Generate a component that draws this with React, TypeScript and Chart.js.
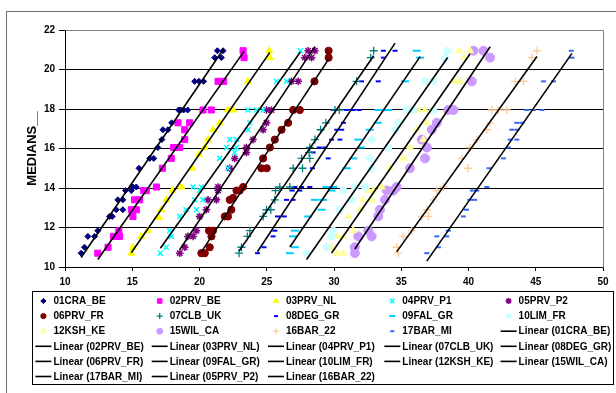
import React, { useEffect, useRef } from 'react';
import { Chart, registerables } from 'chart.js';
import { drawPoint } from 'chart.js/helpers';

Chart.register(...registerables);

// ---------- data (x = value, y = MEDIANS__) ----------
const s01x = [21.33, 21.75, 21.13, 21.63, 19.64, 19.96, 20.3, 18.45, 18.6, 18.82, 19.12, 17.93, 17.28, 17.65, 17.2, 16.9, 16.3, 16.6, 15.5, 15.05, 15.3, 14.5, 14.93, 13.93, 14.3, 13.81, 14.3, 13.31, 13.51, 12.44, 11.7, 12.2, 11.45, 11.2];
const s01y = [20.95, 20.95, 20.6, 20.6, 19.4, 19.4, 19.4, 17.95, 17.95, 17.95, 17.95, 17.3, 16.95, 16.95, 16.45, 16.05, 15.5, 15.5, 15.0, 14.05, 14.05, 13.87, 13.87, 13.4, 13.4, 12.9, 12.9, 12.56, 12.56, 11.84, 11.55, 11.55, 11.0, 10.7];

const s02x = [23.24, 23.31, 21.38, 21.8, 20.26, 20.88, 18.4, 19.27, 18.9, 18.9, 18.08, 18.53, 17.9, 17.24, 16.8, 15.85, 16.05, 15.17, 15.55, 14.93, 15.3, 15.05, 14.0, 13.6, 14.06, 13.2, 12.44];
const s02y = [20.95, 20.6, 19.4, 19.4, 17.95, 17.95, 17.3, 17.3, 16.95, 16.45, 16.05, 16.05, 15.5, 15.0, 14.05, 13.87, 13.87, 13.4, 13.4, 12.9, 12.9, 12.56, 11.84, 11.55, 11.55, 11.0, 10.7];

const s03x = [25.18, 25.23, 23.6, 22.1, 22.5, 21.5, 21.0, 20.63, 20.39, 19.96, 19.47, 18.65, 17.98, 17.53, 17.16, 16.98, 16.17, 15.67, 15.05, 14.93];
const s03y = [20.95, 20.6, 19.4, 17.95, 17.95, 17.3, 16.95, 16.45, 16.05, 15.7, 15.0, 14.05, 13.87, 13.4, 12.9, 12.5, 11.84, 11.55, 11.0, 10.7];

const s04x = [27.5, 25.72, 26.47, 23.6, 24.24, 24.73, 23.74, 23.61, 22.25, 22.75, 22.0, 22.75, 22.62, 21.5, 22.12, 19.52, 20.14, 20.0, 19.64, 20.26, 19.0, 19.77, 18.53, 17.78, 17.9, 17.53, 17.09];
const s04y = [20.95, 19.4, 19.4, 17.95, 17.95, 17.95, 17.3, 16.95, 16.45, 16.45, 16.05, 16.05, 15.8, 15.5, 15.0, 14.05, 14.05, 13.87, 13.4, 13.4, 12.9, 12.9, 12.56, 11.84, 11.55, 11.0, 10.7];

const s05x = [28.08, 28.58, 27.83, 28.33, 26.84, 27.34, 24.98, 25.35, 24.98, 24.73, 23.98, 23.49, 23.49, 22.62, 22.25, 21.38, 21.38, 20.63, 21.26, 20.51, 20.01, 19.77, 19.14, 19.52, 18.9, 18.53];
const s05y = [20.95, 20.95, 20.6, 20.6, 19.4, 19.4, 17.95, 17.95, 17.3, 16.95, 16.45, 16.05, 15.8, 15.5, 15.0, 14.05, 13.87, 13.4, 13.4, 12.9, 12.56, 11.84, 11.55, 11.55, 11.0, 10.7];

const s06x = [29.6, 29.6, 28.55, 26.96, 27.46, 26.59, 26.1, 25.6, 25.23, 24.73, 24.6, 25.0, 23.24, 22.75, 22.99, 22.5, 22.25, 22.37, 21.88, 22.12, 20.71, 21.0, 20.89, 20.76, 20.14, 20.39];
const s06y = [20.95, 20.6, 19.4, 17.95, 17.95, 17.3, 16.95, 16.45, 16.05, 15.5, 15.0, 15.0, 14.05, 13.87, 13.87, 13.5, 13.4, 12.9, 12.56, 12.56, 11.84, 11.84, 11.55, 11.0, 10.7, 10.7];

const s07x = [32.95, 32.73, 31.68, 30.07, 30.39, 29.4, 29.0, 28.58, 28.2, 28.15, 27.59, 28.2, 26.96, 27.66, 25.97, 26.72, 25.65, 25.6, 24.98, 25.3, 24.73, 23.74, 23.56, 23.12, 22.94];
const s07y = [20.95, 20.6, 19.4, 17.95, 17.95, 17.3, 16.95, 16.45, 16.05, 15.8, 15.5, 15.5, 15.0, 15.0, 14.05, 14.05, 13.87, 13.4, 12.9, 12.9, 12.56, 11.84, 11.55, 11.0, 10.7];

const s08x = [33.67, 34.54, 33.67, 32.05, 33.29, 29.94, 30.94, 31.43, 31.88, 30.7, 30.2, 30.57, 29.82, 30.44, 28.9, 29.32, 28.45, 29.57, 28.4, 27.09, 27.59, 28.2, 26.89, 27.46, 26.47, 26.96, 25.8, 26.3, 25.6, 25.47, 24.8, 24.31];
const s08y = [20.95, 20.95, 20.6, 19.4, 19.4, 17.95, 17.95, 17.95, 17.95, 17.3, 16.95, 16.95, 16.45, 16.45, 16.05, 16.05, 15.8, 15.5, 15.0, 14.05, 14.05, 14.05, 13.87, 13.87, 13.4, 13.4, 12.56, 12.56, 11.84, 11.55, 11.0, 10.7];

const s09x = [36.15, 36.4, 35.28, 33.29, 33.79, 34.04, 33.25, 32.67, 31.8, 32.0, 31.43, 30.94, 29.45, 29.94, 29.82, 28.58, 29.2, 29.08, 28.08, 27.09, 26.96, 27.09, 26.72];
const s09y = [20.95, 20.6, 19.4, 17.95, 17.95, 17.95, 17.3, 16.95, 16.45, 16.05, 15.5, 15.0, 14.05, 14.05, 13.87, 13.4, 13.4, 12.9, 12.56, 11.84, 11.55, 11.0, 10.7];

const s10x = [38.45, 38.25, 36.77, 37.39, 35.4, 35.9, 37.39, 34.78, 34.54, 32.8, 34.04, 32.67, 32.8, 31.55, 32.3, 30.69, 31.31, 30.44, 29.94, 29.8, 29.45, 27.96];
const s10y = [20.95, 20.6, 19.4, 19.4, 17.95, 17.95, 17.95, 17.3, 16.95, 16.45, 16.05, 15.5, 15.0, 14.05, 14.05, 13.87, 13.4, 12.9, 11.84, 11.55, 11.0, 10.7];

const s12x = [39.32, 40.12, 39.67, 39.0, 39.38, 36.27, 36.77, 37.27, 36.9, 36.15, 36.64, 35.65, 35.15, 34.16, 33.54, 32.55, 32.92, 32.17, 32.8, 31.93, 31.06, 31.43, 30.19, 30.69, 29.82, 30.19, 30.69];
const s12y = [20.95, 20.95, 20.6, 19.4, 19.4, 17.95, 17.95, 17.95, 17.3, 16.95, 16.45, 16.05, 15.5, 15.0, 14.05, 13.87, 13.87, 13.4, 13.4, 12.9, 12.56, 11.84, 11.55, 11.55, 11.0, 10.7, 10.7];

const s15x = [40.37, 41.11, 41.61, 40.25, 38.5, 38.88, 37.64, 37.27, 36.52, 36.9, 36.77, 35.65, 34.66, 33.92, 34.41, 33.79, 33.42, 33.29, 32.55, 31.8, 32.8, 31.55, 31.55];
const s15y = [20.95, 20.95, 20.6, 19.4, 17.95, 17.95, 17.3, 16.95, 16.45, 16.05, 15.5, 15.0, 14.05, 13.87, 13.87, 13.4, 12.9, 12.56, 11.84, 11.55, 11.55, 11.0, 10.7];

const s16x = [45.09, 44.72, 43.47, 44.09, 41.73, 42.22, 42.85, 41.61, 41.36, 40.62, 40.12, 39.5, 39.99, 38.13, 37.64, 37.39, 36.9, 36.52, 37.02, 35.78, 35.15, 34.66, 34.78];
const s16y = [20.95, 20.6, 19.4, 19.4, 17.95, 17.95, 17.95, 17.3, 16.95, 16.45, 16.05, 15.5, 15.0, 14.05, 13.87, 13.4, 12.9, 12.56, 12.56, 11.84, 11.55, 11.0, 10.7];

const s17x = [47.64, 47.69, 45.58, 46.32, 44.34, 44.83, 45.46, 43.59, 43.97, 43.22, 43.6, 43.1, 43.59, 42.95, 42.6, 41.53, 41.36, 40.29, 40.62, 40.1, 40.45, 39.85, 39.62, 38.5, 37.64, 38.38, 37.76, 36.9];
const s17y = [20.95, 20.6, 19.4, 19.4, 17.95, 17.95, 17.95, 17.3, 17.3, 16.95, 16.95, 16.45, 16.45, 16.05, 15.5, 15.0, 14.05, 13.87, 13.87, 13.4, 13.4, 12.9, 12.56, 11.84, 11.55, 11.55, 11.0, 10.7];

const xTicksMin = 10;
const xTicksMax = 50;
const xTickStep = 5;
const yTicksMin = 10;
const yTicksMax = 22;
const yTickStep = 2;
const yAxisTitle = 'MEDIANS__';

// ---------- styles ----------
type Style = { color: string; style: string; r: number; bw: number; lr: number };
const series: { name: string; xs: number[]; ys: number[]; s: Style }[] = [
  { name: '01CRA_BE', xs: s01x, ys: s01y, s: { color: '#000080', style: 'rectRot', r: 3, bw: 1, lr: 2.6 } },
  { name: '02PRV_BE', xs: s02x, ys: s02y, s: { color: '#FF00FF', style: 'rect', r: 4.3, bw: 1, lr: 3.2 } },
  { name: '03PRV_NL', xs: s03x, ys: s03y, s: { color: '#FFFF00', style: 'triangle', r: 4, bw: 1, lr: 3 } },
  { name: '04PRV_P1', xs: s04x, ys: s04y, s: { color: '#00FFFF', style: 'crossRot', r: 3.5, bw: 1.5, lr: 3 } },
  { name: '05PRV_P2', xs: s05x, ys: s05y, s: { color: '#800080', style: 'star', r: 3.8, bw: 1.5, lr: 3 } },
  { name: '06PRV_FR', xs: s06x, ys: s06y, s: { color: '#800000', style: 'circle', r: 3.6, bw: 1, lr: 2.6 } },
  { name: '07CLB_UK', xs: s07x, ys: s07y, s: { color: '#008080', style: 'cross', r: 4, bw: 1.3, lr: 3 } },
  { name: '08DEG_GR', xs: s08x, ys: s08y, s: { color: '#0000FF', style: 'line', r: 2.5, bw: 2, lr: 2 } },
  { name: '09FAL_GR', xs: s09x, ys: s09y, s: { color: '#00CCFF', style: 'line', r: 4, bw: 2, lr: 3 } },
  { name: '10LIM_FR', xs: s10x, ys: s10y, s: { color: '#CCFFFF', style: 'circle', r: 3.5, bw: 1, lr: 2.6 } },
  { name: '12KSH_KE', xs: s12x, ys: s12y, s: { color: '#FFFF99', style: 'triangle', r: 4, bw: 1, lr: 3 } },
  { name: '15WIL_CA', xs: s15x, ys: s15y, s: { color: '#CC99FF', style: 'circle', r: 4.5, bw: 1, lr: 3 } },
  { name: '16BAR_22', xs: s16x, ys: s16y, s: { color: '#FFCC99', style: 'cross', r: 4, bw: 1.3, lr: 3 } },
  { name: '17BAR_MI', xs: s17x, ys: s17y, s: { color: '#3366FF', style: 'line', r: 2.5, bw: 2, lr: 2 } },
];

const legendOrder = [
  '01CRA_BE', '02PRV_BE', '03PRV_NL', '04PRV_P1', '05PRV_P2',
  '06PRV_FR', '07CLB_UK', '08DEG_GR', '09FAL_GR', '10LIM_FR',
  '12KSH_KE', '15WIL_CA', '16BAR_22', '17BAR_MI', 'Linear (01CRA_BE)',
  'Linear (02PRV_BE)', 'Linear (03PRV_NL)', 'Linear (04PRV_P1)', 'Linear (07CLB_UK)', 'Linear (08DEG_GR)',
  'Linear (06PRV_FR)', 'Linear (09FAL_GR)', 'Linear (10LIM_FR)', 'Linear (12KSH_KE)', 'Linear (15WIL_CA)',
  'Linear (17BAR_MI)', 'Linear (05PRV_P2)', 'Linear (16BAR_22)',
];

function trend(xs: number[], ys: number[]) {
  const n = xs.length;
  let sx = 0, sy = 0, sxx = 0, sxy = 0;
  for (let i = 0; i < n; i++) { sx += xs[i]; sy += ys[i]; sxx += xs[i] * xs[i]; sxy += xs[i] * ys[i]; }
  const b = (n * sxy - sx * sy) / (n * sxx - sx * sx);
  const a = (sy - b * sx) / n;
  const x0 = Math.min(...xs), x1 = Math.max(...xs);
  return [{ x: x0, y: a + b * x0 }, { x: x1, y: a + b * x1 }];
}

const FONT = 'Arial, "Liberation Sans", sans-serif';

const framePlugin = {
  id: 'frameLegend',
  beforeDraw(chart: any) {
    const ctx = chart.ctx;
    ctx.save();
    ctx.fillStyle = '#fff';
    ctx.fillRect(0, 0, chart.width, chart.height);
    ctx.strokeStyle = '#6e6e6e';
    ctx.lineWidth = 1;
    ctx.strokeRect(6.5, 11.5, chart.width + 10, chart.height + 10);
    ctx.restore();
  },
  afterDraw(chart: any) {
    const ctx = chart.ctx;
    const ca = chart.chartArea;
    ctx.save();
    // plot area border (top/right, gray)
    ctx.strokeStyle = '#808080';
    ctx.lineWidth = 1;
    ctx.beginPath();
    ctx.moveTo(Math.round(ca.left) + 0.5, Math.round(ca.top) + 0.5);
    ctx.lineTo(Math.round(ca.right) + 0.5, Math.round(ca.top) + 0.5);
    ctx.lineTo(Math.round(ca.right) + 0.5, Math.round(ca.bottom) + 0.5);
    ctx.stroke();

    // legend
    const boxL = 32.5, boxT = 291.5, boxR = 613.5, boxB = 384.5;
    ctx.strokeStyle = '#000';
    ctx.strokeRect(boxL, boxT, boxR - boxL, boxB - boxT);
    const col0 = 43.4, colStep = 116.3, row0 = 301, rowStep = 15.1;
    ctx.font = `bold 10px ${FONT}`;
    ctx.textBaseline = 'middle';
    ctx.textAlign = 'left';
    legendOrder.forEach((label, i) => {
      const c = i % 5, r = Math.floor(i / 5);
      const cx = col0 + c * colStep;
      const cy = row0 + r * rowStep;
      if (label.startsWith('Linear')) {
        ctx.strokeStyle = '#000';
        ctx.lineWidth = 1.6;
        ctx.beginPath();
        ctx.moveTo(cx - 8, cy);
        ctx.lineTo(cx + 8, cy);
        ctx.stroke();
      } else {
        const s = series.find((q) => q.name === label)!.s;
        ctx.fillStyle = s.color;
        ctx.strokeStyle = s.color;
        ctx.lineWidth = s.bw;
        drawPoint(ctx, { pointStyle: s.style as any, radius: s.lr, rotation: 0, borderWidth: s.bw }, cx, cy);
      }
      ctx.fillStyle = '#000';
      ctx.fillText(label, cx + 10, cy + 0.5);
    });
    ctx.restore();
  },
};

export default function App() {
  const ref = useRef<HTMLCanvasElement>(null);
  useEffect(() => {
    if (!ref.current) return;
    const datasets: any[] = [];
    series.forEach((sr) => {
      datasets.push({
        label: sr.name,
        data: sr.xs.map((x, i) => ({ x, y: sr.ys[i] })),
        pointStyle: sr.s.style,
        pointRadius: sr.s.r,
        pointBorderWidth: sr.s.bw,
        backgroundColor: sr.s.color,
        borderColor: sr.s.color,
        showLine: false,
        order: 1,
      });
    });
    series.forEach((sr) => {
      datasets.push({
        label: `Linear (${sr.name})`,
        data: trend(sr.xs, sr.ys),
        showLine: true,
        borderColor: '#000',
        backgroundColor: '#000',
        borderWidth: 1.6,
        pointRadius: 0,
        order: 0,
      });
    });

    const chart = new Chart(ref.current, {
      type: 'scatter',
      data: { datasets },
      options: {
        responsive: false,
        animation: false,
        events: [],
        layout: { padding: { left: 0, right: 13, top: 30, bottom: 96 } },
        plugins: { legend: { display: false }, tooltip: { enabled: false } },
        scales: {
          x: {
            type: 'linear',
            min: xTicksMin,
            max: xTicksMax,
            afterFit: (s: any) => { s.height = 30; },
            ticks: { stepSize: xTickStep, color: '#000', font: { family: FONT, size: 10, weight: 'bold' }, padding: 5, maxRotation: 0 },
            grid: { drawOnChartArea: false, color: '#000', tickLength: 4 },
            border: { color: '#000', width: 1 },
          },
          y: {
            type: 'linear',
            min: yTicksMin,
            max: yTicksMax,
            afterFit: (s: any) => { s.width = 65; },
            ticks: { stepSize: yTickStep, color: '#000', font: { family: FONT, size: 10, weight: 'bold' }, padding: 4 },
            grid: { color: '#000', tickLength: 6 },
            border: { color: '#000', width: 1 },
            title: { display: true, text: yAxisTitle, color: '#000', font: { family: FONT, size: 13, weight: 'bold' }, padding: { top: 25, bottom: 0 } },
          },
        },
      },
      plugins: [framePlugin],
    } as any);
    return () => chart.destroy();
  }, []);
  return (
    <div style={{ position: 'fixed', left: 0, top: 0, width: 616, height: 393 }}>
      <canvas ref={ref} width={616} height={393} style={{ display: 'block' }} />
    </div>
  );
}
